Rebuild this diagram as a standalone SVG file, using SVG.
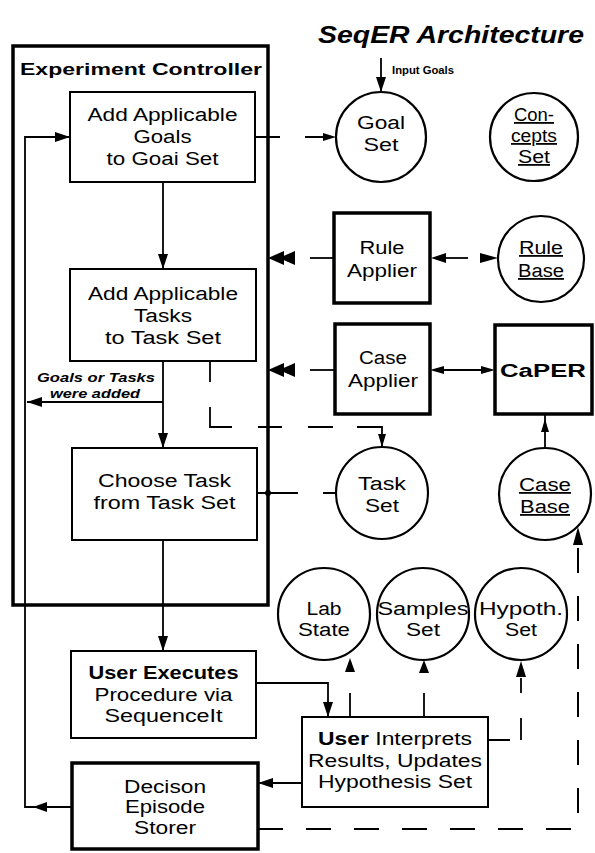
<svg xmlns="http://www.w3.org/2000/svg" width="595" height="853" viewBox="0 0 595 853">
<defs>
<marker id="ah" markerWidth="16" markerHeight="12" refX="15" refY="6" orient="auto" markerUnits="userSpaceOnUse">
<path d="M0,1 L15,6 L0,11 Z" fill="#000"/>
</marker>
<marker id="ahs" markerWidth="14" markerHeight="10" refX="13" refY="5" orient="auto" markerUnits="userSpaceOnUse">
<path d="M0,1 L13,5 L0,9 Z" fill="#000"/>
</marker>
</defs>
<style>
text{font-family:"Liberation Sans",Arial,sans-serif;fill:#000}
.t{font-size:18px;text-anchor:middle}
.b{font-weight:bold}
.u{text-decoration:underline}
.box{fill:#fff;stroke:#000;stroke-width:2}
.tb{fill:#fff;stroke:#000;stroke-width:3.5}
.c{fill:#fff;stroke:#000;stroke-width:2.2}
.ln{fill:none;stroke:#000;stroke-width:1.8}
.ds{fill:none;stroke:#000;stroke-width:2;stroke-dasharray:25 23}
.ah{fill:#000}
</style>
<rect width="595" height="853" fill="#fff"/>
<text x="318" y="43" font-size="24" font-weight="bold" font-style="italic" textLength="266" lengthAdjust="spacingAndGlyphs">SeqER Architecture</text>

<g id="experiment-controller">
<rect x="13" y="46" width="255" height="559" fill="none" stroke="#000" stroke-width="3.5"/>
<text x="20" y="75" font-size="17" class="b" textLength="242" lengthAdjust="spacingAndGlyphs">Experiment Controller</text>
</g>

<g id="connectors">
<path class="ln" d="M163,182 V269" marker-end="url(#ah)"/>
<path class="ln" d="M163,361 V448" marker-end="url(#ah)"/>
<path class="ln" d="M163,540 V651" marker-end="url(#ah)"/>
<path class="ln" d="M163,402 H27" marker-end="url(#ah)"/>
<path class="ln" d="M72,807 H25 V137 H70" marker-end="url(#ah)"/>
<polygon class="ah" points="33,807 47,802 47,812"/>
<path class="ln" d="M381,58 V92" marker-end="url(#ah)"/>
<path class="ln" d="M255,137 H336" stroke-dasharray="25 25" marker-end="url(#ahs)"/>
<path class="ln" d="M210,361 V382 M210,407 V427 H232 M258,427 H282 M308,427 H333"/>
<path class="ln" d="M357,427 H382 V447" marker-end="url(#ahs)"/>
<path class="ln" d="M257,493 H298 M323,493 H336"/>
<circle cx="268" cy="493" r="3" fill="#000"/>
<path class="ln" d="M334,258 H310"/>
<polygon class="ah" points="268,258 284,251 284,265"/>
<polygon class="ah" points="279,258 295,251 295,265"/>
<polygon class="ah" points="431,258 446,253 446,263"/>
<path class="ln" d="M446,258 H468"/>
<polygon class="ah" points="498,258 480,253 480,263"/>
<path class="ln" d="M335,370 H310"/>
<polygon class="ah" points="268,370 284,363 284,377"/>
<polygon class="ah" points="279,370 295,363 295,377"/>
<polygon class="ah" points="430,370 444,366 444,374"/>
<path class="ln" d="M444,370 H481"/>
<polygon class="ah" points="495,370 481,366 481,374"/>
<path class="ln" d="M545,448 V415"/>
<polygon class="ah" points="545,419 541,432 549,432"/>
<path class="ds" d="M258,829 H578 V545"/>
<polygon class="ah" points="578,527 573,545 583,545"/>
<path class="ln" d="M256,683 H328 V717" marker-end="url(#ah)"/>
<path class="ln" d="M302,783 H258" marker-end="url(#ah)"/>
<path class="ln" d="M350,717 V693"/>
<polygon class="ah" points="350,658 345,672 355,672"/>
<path class="ln" d="M424,717 V693"/>
<polygon class="ah" points="424,660 419,673 429,673"/>
<path class="ln" d="M488,740 H510 M521,740 V718 M521,693 V678"/>
<polygon class="ah" points="521,661 516,677 526,677"/>
</g>
<text x="392" y="74" font-size="11" class="b" textLength="62" lengthAdjust="spacingAndGlyphs">Input Goals</text>
<text x="37" y="382" font-size="12.5" font-weight="bold" font-style="italic" textLength="118" lengthAdjust="spacingAndGlyphs">Goals or Tasks</text>
<text x="50" y="398" font-size="12.5" font-weight="bold" font-style="italic" textLength="90" lengthAdjust="spacingAndGlyphs">were added</text>

<g id="add-goals">
<rect class="box" x="70" y="92" width="185" height="90"/>
<text class="t" x="162.5" y="121" textLength="150" lengthAdjust="spacingAndGlyphs">Add Applicable</text>
<text class="t" x="162.5" y="143" textLength="58" lengthAdjust="spacingAndGlyphs">Goals</text>
<text class="t" x="162.5" y="165" textLength="112" lengthAdjust="spacingAndGlyphs">to Goai Set</text>
</g>
<g id="add-tasks">
<rect class="box" x="70" y="269" width="186" height="92"/>
<text class="t" x="163" y="300" textLength="150" lengthAdjust="spacingAndGlyphs">Add Applicable</text>
<text class="t" x="163" y="322" textLength="58" lengthAdjust="spacingAndGlyphs">Tasks</text>
<text class="t" x="163" y="344" textLength="116" lengthAdjust="spacingAndGlyphs">to Task Set</text>
</g>
<g id="choose-task">
<rect class="box" x="72" y="448" width="185" height="92"/>
<text class="t" x="164.5" y="487" textLength="133" lengthAdjust="spacingAndGlyphs">Choose Task</text>
<text class="t" x="164.5" y="509" textLength="142" lengthAdjust="spacingAndGlyphs">from Task Set</text>
</g>
<g id="user-executes">
<rect class="box" x="71" y="651" width="185" height="87"/>
<text class="t b" x="163.5" y="679" textLength="150" lengthAdjust="spacingAndGlyphs">User Executes</text>
<text class="t" x="163.5" y="701" textLength="138" lengthAdjust="spacingAndGlyphs">Procedure via</text>
<text class="t" x="163.5" y="722" textLength="118" lengthAdjust="spacingAndGlyphs">SequenceIt</text>
</g>
<g id="decision-episode-storer">
<rect class="tb" x="72" y="763" width="186" height="86"/>
<text class="t" x="165" y="793" textLength="82" lengthAdjust="spacingAndGlyphs">Decison</text>
<text class="t" x="165" y="813" textLength="80" lengthAdjust="spacingAndGlyphs">Episode</text>
<text class="t" x="165" y="834" textLength="62" lengthAdjust="spacingAndGlyphs">Storer</text>
</g>
<g id="user-interprets">
<rect class="box" x="302" y="717" width="186" height="90"/>
<text class="t" x="395" y="745" textLength="154" lengthAdjust="spacingAndGlyphs"><tspan class="b">User</tspan> Interprets</text>
<text class="t" x="395" y="767" textLength="174" lengthAdjust="spacingAndGlyphs">Results, Updates</text>
<text class="t" x="395" y="788" textLength="154" lengthAdjust="spacingAndGlyphs">Hypothesis Set</text>
</g>
<g id="rule-applier">
<rect class="tb" x="334" y="213" width="96" height="90"/>
<text class="t" x="382" y="254" textLength="45" lengthAdjust="spacingAndGlyphs">Rule</text>
<text class="t" x="382" y="277" textLength="70" lengthAdjust="spacingAndGlyphs">Applier</text>
</g>
<g id="case-applier">
<rect class="tb" x="335" y="324" width="95" height="90"/>
<text class="t" x="383" y="364" textLength="48" lengthAdjust="spacingAndGlyphs">Case</text>
<text class="t" x="383" y="387" textLength="70" lengthAdjust="spacingAndGlyphs">Applier</text>
</g>
<g id="caper">
<rect class="tb" x="495" y="325" width="97" height="89"/>
<text class="t b" x="543" y="377" textLength="86" lengthAdjust="spacingAndGlyphs">CaPER</text>
</g>
<g id="goal-set">
<circle class="c" cx="381" cy="137" r="45"/>
<text class="t" x="381" y="129" textLength="48" lengthAdjust="spacingAndGlyphs">Goal</text>
<text class="t" x="381" y="151" textLength="35" lengthAdjust="spacingAndGlyphs">Set</text>
</g>
<g id="concepts-set">
<circle class="c" cx="534" cy="137" r="44"/>
<text class="t u" x="534" y="121" textLength="40" lengthAdjust="spacingAndGlyphs">Con-</text>
<text class="t u" x="534" y="142" textLength="46" lengthAdjust="spacingAndGlyphs">cepts</text>
<text class="t u" x="534" y="163" textLength="32" lengthAdjust="spacingAndGlyphs">Set</text>
</g>
<g id="rule-base">
<circle class="c" cx="541" cy="259" r="43"/>
<text class="t u" x="541" y="254" textLength="44" lengthAdjust="spacingAndGlyphs">Rule</text>
<text class="t u" x="541" y="277" textLength="46" lengthAdjust="spacingAndGlyphs">Base</text>
</g>
<g id="task-set">
<circle class="c" cx="382" cy="493" r="46"/>
<text class="t" x="382" y="490" textLength="48" lengthAdjust="spacingAndGlyphs">Task</text>
<text class="t" x="382" y="512" textLength="34" lengthAdjust="spacingAndGlyphs">Set</text>
</g>
<g id="case-base">
<circle class="c" cx="545" cy="494" r="46"/>
<text class="t u" x="545" y="491" textLength="52" lengthAdjust="spacingAndGlyphs">Case</text>
<text class="t u" x="545" y="513" textLength="50" lengthAdjust="spacingAndGlyphs">Base</text>
</g>
<g id="lab-state">
<circle class="c" cx="324" cy="614" r="46"/>
<text class="t" x="324" y="615" textLength="35" lengthAdjust="spacingAndGlyphs">Lab</text>
<text class="t" x="324" y="636" textLength="52" lengthAdjust="spacingAndGlyphs">State</text>
</g>
<g id="samples-set">
<circle class="c" cx="423" cy="614" r="46"/>
<text class="t" x="423" y="615" textLength="91" lengthAdjust="spacingAndGlyphs">Samples</text>
<text class="t" x="423" y="636" textLength="34" lengthAdjust="spacingAndGlyphs">Set</text>
</g>
<g id="hypoth-set">
<circle class="c" cx="521" cy="614" r="46"/>
<text class="t" x="521" y="615" textLength="84" lengthAdjust="spacingAndGlyphs">Hypoth.</text>
<text class="t" x="521" y="636" textLength="32" lengthAdjust="spacingAndGlyphs">Set</text>
</g>
</svg>
